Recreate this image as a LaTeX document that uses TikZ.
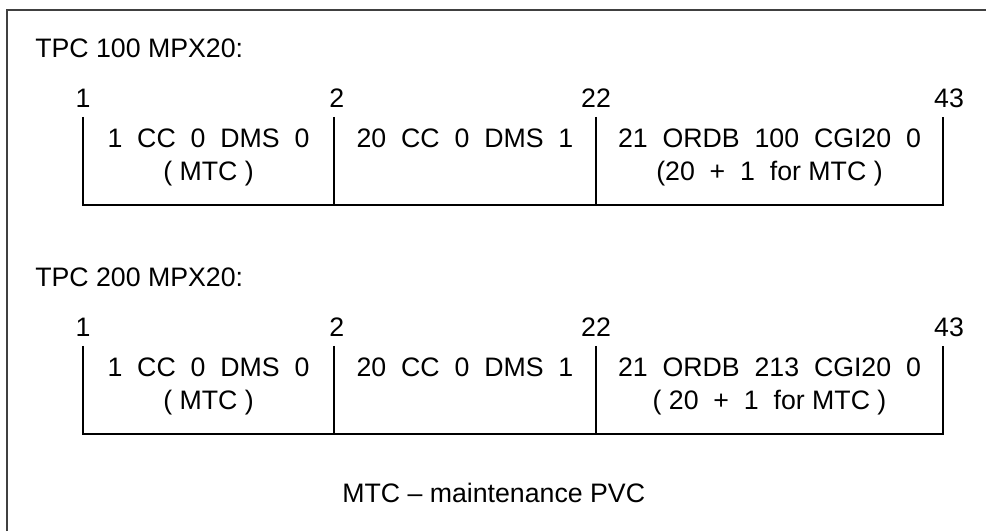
\documentclass[tikz,border=0pt]{standalone}
\usepackage{fontspec}
\setmainfont{Liberation Sans}
\usetikzlibrary{positioning}
\newcommand{\wsp}{\hspace{0.556em}}

\begin{document}
\begin{tikzpicture}[
    font=\fontsize{19}{23}\selectfont,
    frame/.style={line width=1.3pt, black!75},
    seg/.style={line width=1.4pt, black},
    title/.style={anchor=west, inner sep=0pt},
    num/.style={inner sep=0pt},
    cell/.style={anchor=base, inner sep=0pt}
]
\useasboundingbox (0,0) rectangle (24.65,13.275);

%% Frame
\coordinate (fr_bl) at (0.175,0);
\coordinate (fr_tr) at (24.65,13.025);
\draw[frame] (fr_bl) |- (fr_tr);

%% TPC 100
\node[title] (a_label) at (0.875,12.075) {TPC 100 MPX20:};
\coordinate (a_t1) at (2.075,10.35);
\coordinate (a_t2) at (8.35,10.35);
\coordinate (a_t3) at (14.9,10.35);
\coordinate (a_t4) at (23.575,10.35);
\coordinate (a_base) at (0,8.15);
\node[num, above=0.235cm of a_t1] (a_n1) {1};
\node[num, above=0.235cm of a_t2, xshift=0.07cm] (a_n2) {2};
\node[num, above=0.235cm of a_t3] (a_n3) {22};
\node[num, above=0.235cm of a_t4, xshift=0.15cm] (a_n4) {43};
\draw[seg] (a_t1) -- (a_t1 |- a_base) -- (a_t4 |- a_base) -- (a_t4);
\draw[seg] (a_t2) -- (a_t2 |- a_base);
\draw[seg] (a_t3) -- (a_t3 |- a_base);
\node[cell] (a_c1) at (5.2125,9.575) {1\wsp CC\wsp 0\wsp DMS\wsp 0};
\node[cell] (a_c1b) at (5.2125,8.75) {( MTC )};
\node[cell] (a_c2) at (11.625,9.575) {20\wsp CC\wsp 0\wsp DMS\wsp 1};
\node[cell] (a_c3) at (19.2375,9.575) {21\wsp ORDB\wsp 100\wsp CGI20\wsp 0};
\node[cell] (a_c3b) at (19.2375,8.75) {(20\wsp +\wsp 1\wsp for MTC )};

%% TPC 200
\node[title] (b_label) at (0.875,6.35) {TPC 200 MPX20:};
\coordinate (b_t1) at (2.075,4.625);
\coordinate (b_t2) at (8.35,4.625);
\coordinate (b_t3) at (14.9,4.625);
\coordinate (b_t4) at (23.575,4.625);
\coordinate (b_base) at (0,2.425);
\node[num, above=0.235cm of b_t1] (b_n1) {1};
\node[num, above=0.235cm of b_t2, xshift=0.07cm] (b_n2) {2};
\node[num, above=0.235cm of b_t3] (b_n3) {22};
\node[num, above=0.235cm of b_t4, xshift=0.15cm] (b_n4) {43};
\draw[seg] (b_t1) -- (b_t1 |- b_base) -- (b_t4 |- b_base) -- (b_t4);
\draw[seg] (b_t2) -- (b_t2 |- b_base);
\draw[seg] (b_t3) -- (b_t3 |- b_base);
\node[cell] (b_c1) at (5.2125,3.85) {1\wsp CC\wsp 0\wsp DMS\wsp 0};
\node[cell] (b_c1b) at (5.2125,3.025) {( MTC )};
\node[cell] (b_c2) at (11.625,3.85) {20\wsp CC\wsp 0\wsp DMS\wsp 1};
\node[cell] (b_c3) at (19.2375,3.85) {21\wsp ORDB\wsp 213\wsp CGI20\wsp 0};
\node[cell] (b_c3b) at (19.2375,3.025) {( 20\wsp +\wsp 1\wsp for MTC )};

%% Legend
\node[cell, anchor=base west] (legend) at (8.55,0.725) {MTC -- maintenance PVC};

\end{tikzpicture}
\end{document}
